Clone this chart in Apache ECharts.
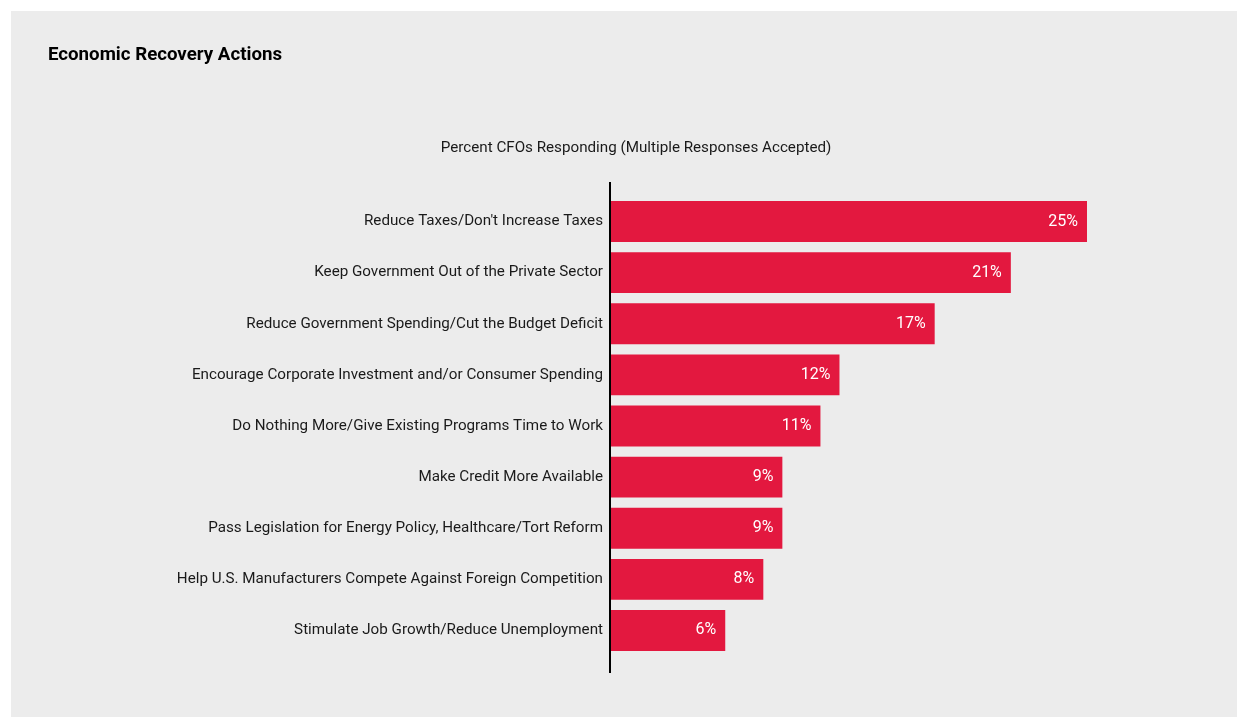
<!DOCTYPE html>
<html>
<head>
<meta charset="utf-8">
<script src="https://cdn.jsdelivr.net/npm/echarts@6/dist/echarts.min.js"></script>
<style>
  html, body { margin: 0; padding: 0; background: #ffffff; }
  #chart { width: 1248px; height: 717px; }
</style>
</head>
<body>
<div id="chart"></div>
<script>
// Survey answers, top to bottom
const categories = [
  "Reduce Taxes/Don't Increase Taxes",
  "Keep Government Out of the Private Sector",
  "Reduce Government Spending/Cut the Budget Deficit",
  "Encourage Corporate Investment and/or Consumer Spending",
  "Do Nothing More/Give Existing Programs Time to Work",
  "Make Credit More Available",
  "Pass Legislation for Energy Policy, Healthcare/Tort Reform",
  "Help U.S. Manufacturers Compete Against Foreign Competition",
  "Stimulate Job Growth/Reduce Unemployment"
];
// Percent of CFOs giving each answer
const percents = [25, 21, 17, 12, 11, 9, 9, 8, 6];

const titleText = "Economic Recovery Actions";
const subtitleText = "Percent CFOs Responding (Multiple Responses Accepted)";

const FONT = "Roboto, 'Liberation Sans', sans-serif";
const chart = echarts.init(document.getElementById('chart'), null, { renderer: 'canvas' });

chart.setOption({
  backgroundColor: '#ffffff',
  animation: false,
  graphic: [
    {
      type: 'rect', z: -10, silent: true,
      shape: { x: 11, y: 11, width: 1226, height: 706 },
      style: { fill: '#ececec' }
    },
    {
      type: 'text', silent: true, x: 48, y: 55,
      style: {
        text: titleText, fill: '#000000',
        font: "bold 18.7px " + FONT,
        textAlign: 'left', textVerticalAlign: 'middle'
      }
    },
    {
      type: 'text', silent: true, x: 636, y: 148,
      style: {
        text: subtitleText, fill: '#1a1a1a',
        font: "15.2px " + FONT,
        textAlign: 'center', textVerticalAlign: 'middle'
      }
    },
    {
      type: 'line', z: 10, silent: true,
      shape: { x1: 610, y1: 182, x2: 610, y2: 673 },
      style: { stroke: '#000000', lineWidth: 2 }
    }
  ],
  grid: { left: 611, top: 196, width: 476, height: 460, containLabel: false },
  xAxis: { type: 'value', min: 0, max: 25, show: false },
  yAxis: {
    type: 'category',
    data: categories,
    inverse: true,
    axisLine: { show: false },
    axisTick: { show: false },
    splitLine: { show: false },
    axisLabel: { margin: 8, fontFamily: FONT, fontSize: 15.2, color: '#1a1a1a', padding: [3, 0, 0, 0] }
  },
  series: [{
    type: 'bar',
    data: percents,
    barWidth: '80%',
    itemStyle: { color: '#e3183f' },
    label: {
      show: true,
      position: 'insideRight',
      distance: 9,
      formatter: p => p.value + '%',
      fontFamily: FONT, fontSize: 16, color: '#ffffff'
    }
  }]
});
</script>
</body>
</html>
